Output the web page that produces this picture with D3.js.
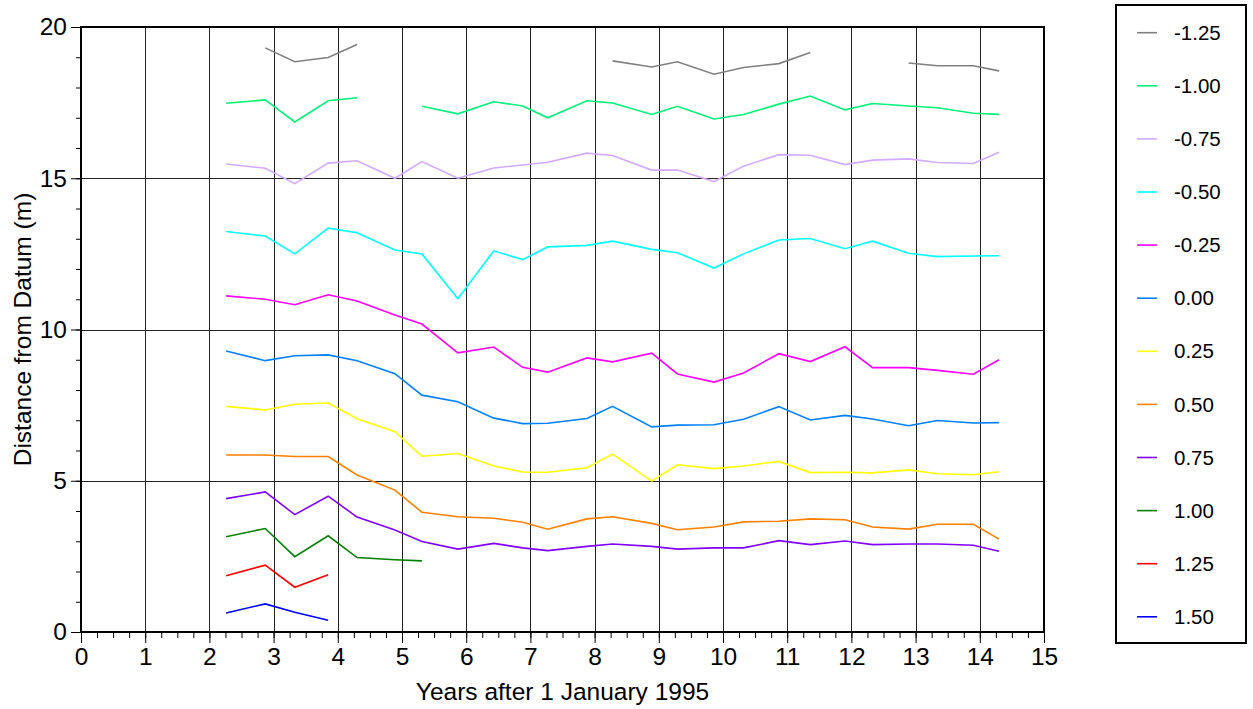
<!DOCTYPE html>
<html>
<head>
<meta charset="utf-8">
<script src="https://cdn.jsdelivr.net/npm/d3@7"></script>
<style>
    body { margin: 0; background: #ffffff; }
    text { font-family: "Liberation Sans", Arial, sans-serif; fill: #000; }
</style>
</head>
<body>
<div id="chart"></div>
<script>
// sampling times, years after 1 January 1995
var years = [2.26, 2.87, 3.33, 3.85, 4.30, 4.89, 5.31, 5.87, 6.43, 6.88, 7.27, 7.88, 8.28,
    8.89, 9.29, 9.86, 10.32, 10.87, 11.36, 11.90, 12.33, 12.89, 13.34, 13.90, 14.30];

// distance from datum (m) for each contour level, null = no survey
var levM125 = [null, 19.31, 18.85, 18.99, 19.42, null, null, null, null, null, null, null, 18.88,
    18.68, 18.85, 18.44, 18.66, 18.79, 19.16, null, null, 18.81, 18.72, 18.72, 18.55];
var levM100 = [17.48, 17.59, 16.86, 17.56, 17.66, null, 17.38, 17.13, 17.53, 17.39, 17.00, 17.56, 17.49,
    17.11, 17.38, 16.96, 17.11, 17.45, 17.72, 17.26, 17.47, 17.39, 17.33, 17.15, 17.11];
var levM075 = [15.47, 15.33, 14.82, 15.50, 15.58, 15.00, 15.55, 15.00, 15.34, 15.44, 15.53, 15.83, 15.75,
    15.27, 15.27, 14.89, 15.40, 15.78, 15.76, 15.45, 15.60, 15.64, 15.52, 15.49, 15.86];
var levM050 = [13.24, 13.09, 12.50, 13.35, 13.20, 12.63, 12.50, 11.02, 12.60, 12.31, 12.73, 12.78, 12.92,
    12.65, 12.54, 12.03, 12.50, 12.96, 13.01, 12.67, 12.92, 12.52, 12.41, 12.43, 12.44];
var levM025 = [11.11, 11.00, 10.82, 11.15, 10.94, 10.48, 10.18, 9.23, 9.42, 8.75, 8.59, 9.06, 8.93,
    9.22, 8.53, 8.26, 8.56, 9.20, 8.94, 9.43, 8.74, 8.74, 8.65, 8.52, 9.00];
var lev000 = [9.29, 8.97, 9.13, 9.16, 8.97, 8.54, 7.83, 7.61, 7.07, 6.89, 6.90, 7.06, 7.46,
    6.78, 6.84, 6.85, 7.03, 7.45, 7.01, 7.16, 7.04, 6.82, 6.99, 6.91, 6.92];
var lev025 = [7.46, 7.34, 7.53, 7.57, 7.05, 6.62, 5.81, 5.90, 5.49, 5.29, 5.28, 5.43, 5.88,
    4.99, 5.53, 5.40, 5.49, 5.64, 5.27, 5.28, 5.26, 5.36, 5.23, 5.20, 5.30];
var lev050 = [5.85, 5.85, 5.80, 5.80, 5.19, 4.69, 3.96, 3.81, 3.76, 3.63, 3.40, 3.74, 3.81,
    3.59, 3.38, 3.47, 3.64, 3.66, 3.74, 3.71, 3.47, 3.40, 3.56, 3.56, 3.07];
var lev075 = [4.41, 4.63, 3.88, 4.49, 3.80, 3.37, 2.99, 2.74, 2.93, 2.78, 2.69, 2.83, 2.91,
    2.83, 2.74, 2.78, 2.78, 3.02, 2.89, 3.01, 2.89, 2.91, 2.91, 2.87, 2.67];
var lev100 = [3.15, 3.42, 2.49, 3.18, 2.46, 2.39, 2.35, null, null, null, null, null, null,
    null, null, null, null, null, null, null, null, null, null, null, null];
var lev125 = [1.86, 2.21, 1.48, 1.89, null, null, null, null, null, null, null, null, null,
    null, null, null, null, null, null, null, null, null, null, null, null];
var lev150 = [0.63, 0.93, 0.65, 0.39, null, null, null, null, null, null, null, null, null,
    null, null, null, null, null, null, null, null, null, null, null, null];

var levelNames = ["-1.25", "-1.00", "-0.75", "-0.50", "-0.25", "0.00", "0.25", "0.50", "0.75", "1.00", "1.25", "1.50"];
var levelColors = ["#808080", "#00f078", "#d2aaff", "#00ffff", "#ff00ff", "#0080ff",
    "#ffff00", "#ff8000", "#8000ff", "#008000", "#ff0000", "#0000ff"];
var levelValues = [levM125, levM100, levM075, levM050, levM025, lev000, lev025, lev050, lev075, lev100, lev125, lev150];

var xTicks = d3.range(0, 16, 1);
var yTicks = [0, 5, 10, 15, 20];

var width = 1253, height = 709;
var margin = {top: 27, left: 81, right: 209, bottom: 77};

var svg = d3.select("#chart").append("svg")
    .attr("width", width)
    .attr("height", height);

var x = d3.scaleLinear().domain([0, 15]).range([margin.left, width - margin.right]);
var y = d3.scaleLinear().domain([0, 20]).range([height - margin.bottom, margin.top]);

// grid lines
svg.append("g").selectAll("line.vg")
    .data(xTicks.filter(function(d) { return d > 0 && d < 15; }))
    .enter().append("line")
    .attr("x1", function(d) { return Math.round(x(d)) + 0.5; })
    .attr("x2", function(d) { return Math.round(x(d)) + 0.5; })
    .attr("y1", y(20)).attr("y2", y(0))
    .attr("stroke", "#222").attr("stroke-width", 1);

svg.append("g").selectAll("line.hg")
    .data([5, 10, 15])
    .enter().append("line")
    .attr("x1", x(0)).attr("x2", x(15))
    .attr("y1", function(d) { return Math.round(y(d)) + 0.5; })
    .attr("y2", function(d) { return Math.round(y(d)) + 0.5; })
    .attr("stroke", "#222").attr("stroke-width", 1);

// the series
var valueline = d3.line()
    .defined(function(d) { return d.v !== null; })
    .x(function(d) { return x(d.t); })
    .y(function(d) { return y(d.v); });

levelValues.forEach(function(vals, i) {
    var pts = years.map(function(t, j) { return {t: t, v: vals[j]}; });
    svg.append("path")
        .datum(pts)
        .attr("fill", "none")
        .attr("stroke", levelColors[i])
        .attr("stroke-width", 1.6)
        .attr("stroke-linejoin", "miter")
        .attr("d", valueline);
});

// axes
var xAxis = svg.append("g")
    .attr("transform", "translate(0," + y(0) + ")")
    .call(d3.axisBottom(x).tickValues(d3.range(0, 15.01, 0.25)).tickSize(6).tickFormat(""));
xAxis.select(".domain").remove();
xAxis.selectAll("line").attr("stroke", "#000");

var xMajor = svg.append("g")
    .attr("transform", "translate(0," + y(0) + ")")
    .call(d3.axisBottom(x).tickValues(xTicks).tickSize(11).tickPadding(5).tickFormat(d3.format("d")));
xMajor.select(".domain").remove();
xMajor.selectAll("line").attr("stroke", "#000");
xMajor.selectAll("text").style("font-size", "24.5px").attr("fill", "#000");

var yMinor = svg.append("g")
    .attr("transform", "translate(" + x(0) + ",0)")
    .call(d3.axisLeft(y).tickValues(d3.range(0, 21, 1)).tickSize(5).tickFormat(""));
yMinor.select(".domain").remove();
yMinor.selectAll("line").attr("stroke", "#000");

var yMajor = svg.append("g")
    .attr("transform", "translate(" + x(0) + ",0)")
    .call(d3.axisLeft(y).tickValues(yTicks).tickSize(10).tickPadding(4).tickFormat(d3.format("d")));
yMajor.select(".domain").remove();
yMajor.selectAll("line").attr("stroke", "#000");
yMajor.selectAll("text").style("font-size", "24.5px").attr("fill", "#000");

// plot frame
svg.append("rect")
    .attr("x", x(0)).attr("y", y(20))
    .attr("width", x(15) - x(0)).attr("height", y(0) - y(20))
    .attr("fill", "none").attr("stroke", "#000").attr("stroke-width", 2);

// axis titles
svg.append("text")
    .attr("x", (x(0) + x(15)) / 2)
    .attr("y", 700)
    .style("text-anchor", "middle")
    .style("font-size", "24.5px")
    .text("Years after 1 January 1995");

svg.append("text")
    .attr("transform", "rotate(-90)")
    .attr("x", 0 - (y(0) + y(20)) / 2)
    .attr("y", 31)
    .style("text-anchor", "middle")
    .style("font-size", "24.5px")
    .text("Distance from Datum (m)");

// legend
var legend = svg.append("g");
legend.append("rect")
    .attr("x", 1116).attr("y", 5)
    .attr("width", 130).attr("height", 638)
    .attr("fill", "#fff").attr("stroke", "#000").attr("stroke-width", 2);

var rows = legend.selectAll("g.row")
    .data(levelNames)
    .enter().append("g")
    .attr("transform", function(d, i) { return "translate(0," + (32.7 + i * 53.1) + ")"; });

rows.append("line")
    .attr("x1", 1137).attr("x2", 1157)
    .attr("y1", 0).attr("y2", 0)
    .attr("stroke", function(d, i) { return levelColors[i]; })
    .attr("stroke-width", 1.6);

rows.append("text")
    .attr("x", 1174)
    .attr("dy", "0.35em")
    .style("font-size", "20.5px")
    .text(function(d) { return d; });
</script>
</body>
</html>
